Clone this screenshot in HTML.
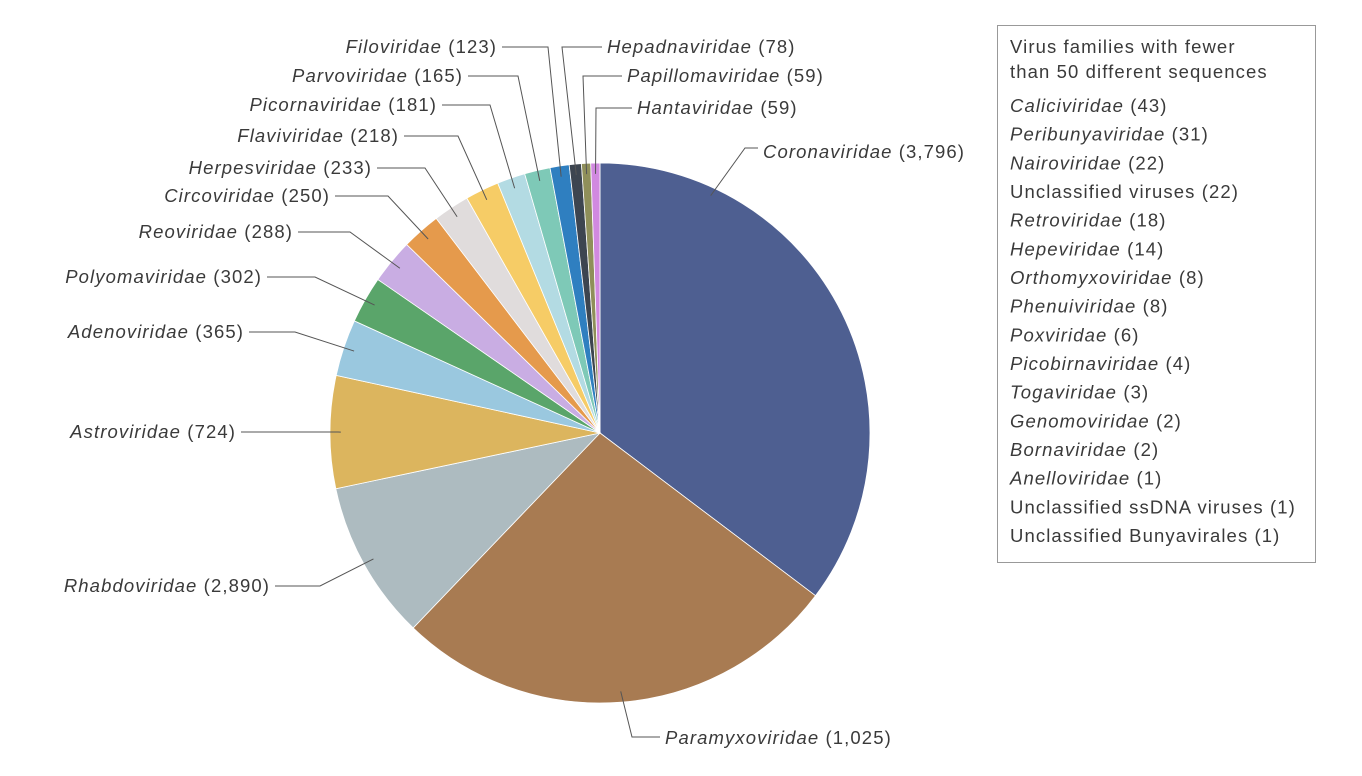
<!DOCTYPE html>
<html><head><meta charset="utf-8"><style>
html,body{margin:0;padding:0;background:#fff;width:1362px;height:776px;overflow:hidden}
svg text{font-family:"Liberation Sans",sans-serif;font-size:18.5px;letter-spacing:1.1px;fill:#3a3a3a}
.it{font-style:italic}
</style></head><body>
<svg id="chart" width="1362" height="776" viewBox="0 0 1362 776" xmlns="http://www.w3.org/2000/svg">
<g id="slices"></g>
<g id="leaders"></g>
<g id="labels"></g>
<g>
<rect x="997.5" y="25.5" width="318" height="537" fill="#fff" stroke="#999" stroke-width="1"/>
<text x="1010" y="53">Virus families with fewer</text>
<text x="1010" y="78">than 50 different sequences</text>
<g id="legend"></g>
</g>
</svg>
<script>
// slice order (clockwise from top)
const names = ["Coronaviridae","Paramyxoviridae","Rhabdoviridae","Astroviridae","Adenoviridae","Polyomaviridae","Reoviridae","Circoviridae","Herpesviridae","Flaviviridae","Picornaviridae","Parvoviridae","Filoviridae","Hepadnaviridae","Papillomaviridae","Hantaviridae"];
const printedCounts = ["3,796","1,025","2,890","724","365","302","288","250","233","218","181","165","123","78","59","59"];
const sliceValues = [3796,2890,1025,724,365,302,288,250,233,218,181,165,123,78,59,59];
const colors = ["#4e5f91","#a87b52","#adbbc0","#dcb55e","#9ac8df","#5aa56a","#c9ade3","#e59a4c","#e0dcdc","#f6cc66","#b3dbe3","#7ec9b7","#2f7fc0","#3d4550","#8f8f5a","#d189e0"];
const smallNames = ["Caliciviridae","Peribunyaviridae","Nairoviridae","Unclassified viruses","Retroviridae","Hepeviridae","Orthomyxoviridae","Phenuiviridae","Poxviridae","Picobirnaviridae","Togaviridae","Genomoviridae","Bornaviridae","Anelloviridae","Unclassified ssDNA viruses","Unclassified Bunyavirales"];
const smallCounts = [43,31,22,22,18,14,8,8,6,4,3,2,2,1,1,1];
const smallItalic = [1,1,1,0,1,1,1,1,1,1,1,1,1,1,0,0];

// layout (label anchor, elbow, side) — not data
const layout = [
 {ex:745,ey:148,tx:763,ty:158,side:"r",ang:25,rf:0.97},
 {ex:632,ey:737,tx:665,ty:744,side:"r"},
 {ex:320,ey:586,tx:270,ty:592,side:"l"},
 {ex:338,ey:432,tx:236,ty:438,side:"l"},
 {ex:295,ey:332,tx:244,ty:338,side:"l"},
 {ex:315,ey:277,tx:262,ty:283,side:"l"},
 {ex:350,ey:232,tx:293,ty:238,side:"l"},
 {ex:388,ey:196,tx:330,ty:202,side:"l"},
 {ex:425,ey:168,tx:372,ty:174,side:"l"},
 {ex:458,ey:136,tx:399,ty:142,side:"l"},
 {ex:490,ey:105,tx:437,ty:111,side:"l"},
 {ex:518,ey:76,tx:463,ty:82,side:"l"},
 {ex:548,ey:47,tx:497,ty:53,side:"l"},
 {ex:562,ey:47,tx:607,ty:53,side:"r"},
 {ex:583,ey:76,tx:627,ty:82,side:"r"},
 {ex:596,ey:108,tx:637,ty:114,side:"r"}
];
const cx=600, cy=433, R=270, NS="http://www.w3.org/2000/svg";
const total = sliceValues.reduce((a,b)=>a+b,0);
function pt(deg,r){const a=deg*Math.PI/180;return [cx+r*Math.sin(a), cy-r*Math.cos(a)];}
const sG=document.getElementById('slices'), lG=document.getElementById('leaders'), tG=document.getElementById('labels');
let acc=0;
sliceValues.forEach((v,i)=>{
  const a0=acc/total*360, a1=(acc+v)/total*360; acc+=v;
  const [x0,y0]=pt(a0,R),[x1,y1]=pt(a1,R);
  const p=document.createElementNS(NS,'path');
  p.setAttribute('d',`M${cx},${cy}L${x0},${y0}A${R},${R} 0 ${a1-a0>180?1:0} 1 ${x1},${y1}Z`);
  p.setAttribute('fill',colors[i]);p.setAttribute('stroke','#fff');p.setAttribute('stroke-width','0.8');
  
  
  sG.appendChild(p);
  const L=layout[i], mid=L.ang!==undefined?L.ang:(a0+a1)/2;
  const [sx,sy]=pt(mid,R*(L.rf||0.96));
  const hx = L.side==="l"? L.tx+5 : L.tx-5;
  const pl=document.createElementNS(NS,'polyline');
  pl.setAttribute('points',`${sx},${sy} ${L.ex},${L.ey} ${hx},${L.ey}`);
  pl.setAttribute('fill','none');pl.setAttribute('stroke','#555');pl.setAttribute('stroke-width','1');
  
  
  lG.appendChild(pl);
  const t=document.createElementNS(NS,'text');
  t.setAttribute('x',L.tx);t.setAttribute('y',L.ty);
  t.setAttribute('text-anchor',L.side==="l"?"end":"start");
  const ts=document.createElementNS(NS,'tspan');ts.setAttribute('class','it');ts.textContent=names[i];
  t.appendChild(ts);t.appendChild(document.createTextNode(' ('+printedCounts[i]+')'));
  
  
  tG.appendChild(t);
});
const lgG=document.getElementById('legend');
smallNames.forEach((n,i)=>{
  const t=document.createElementNS(NS,'text');
  t.setAttribute('x',1010);t.setAttribute('y',112+i*28.67);
  const ts=document.createElementNS(NS,'tspan');if(smallItalic[i])ts.setAttribute('class','it');ts.textContent=n;
  t.appendChild(ts);t.appendChild(document.createTextNode(' ('+smallCounts[i]+')'));
  
  
  lgG.appendChild(t);
});
</script>
</body></html>
